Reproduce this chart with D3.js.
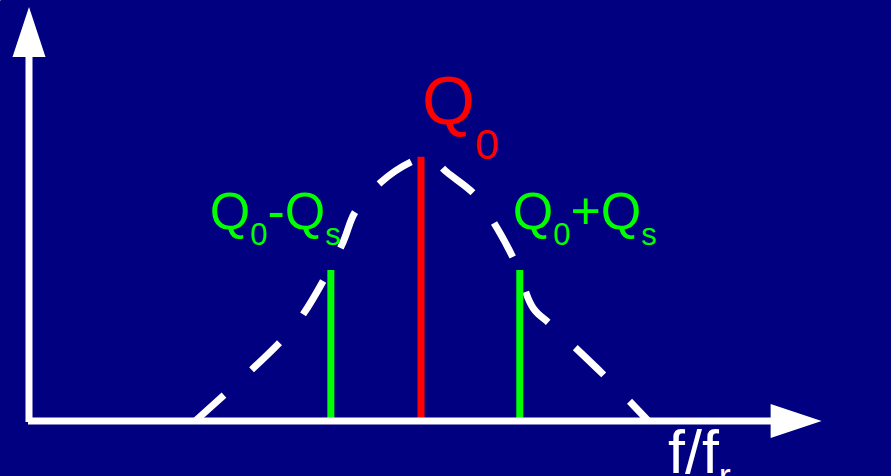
<!DOCTYPE html>
<html>
<head>
<meta charset="utf-8">
<script src="https://cdn.jsdelivr.net/npm/d3@7"></script>
<style>
  html, body { margin: 0; padding: 0; background: #000080; }
  svg { display: block; }
  text { font-family: "Liberation Sans", Arial, sans-serif; }
</style>
</head>
<body>
<div id="chart"></div>
<script>
// data (arbitrary units, f/fr on x, response on y)
const curveX = [21.2, 31.9, 34.9, 39.9, 41.6, 44.9, 49.0, 51.1, 53.3, 56.9, 59.7, 62.0, 64.3, 66.6, 73.7, 79.0]
const curveY = [0, 18.8, 25.6, 42.5, 50.5, 57.7, 62.8, 63.8, 60.1, 54.6, 46.6, 38.4, 27.3, 23.2, 10.4, 0]
const markerNames = ["Q0", "Q0-Qs", "Q0+Qs"]
const markerX = [50, 38.5, 62.6]
const markerTop = [63.8, 36.5, 36.5]
const axisLabels = ["f/f", "r", "G"]

const W = 891, H = 476
const red = "#ff0000", green = "#00ff00"

const svg = d3.select("#chart").append("svg")
    .attr("width", W).attr("height", H)

svg.append("rect").attr("width", W).attr("height", H).attr("fill", "#000080")

// scales
const x = d3.scaleLinear().domain([0, 100]).range([29, 813])
const y = d3.scaleLinear().domain([0, 100]).range([421, 7])

// dashed bell curve
const pts = curveX.map((d, i) => [d, curveY[i]])
svg.append("path")
    .datum(pts)
    .attr("d", d3.line()
        .x(d => x(d[0]))
        .y(d => y(d[1]))
        .curve(d3.curveCatmullRom.alpha(0.5)))
    .attr("fill", "none")
    .attr("stroke", "#fff")
    .attr("stroke-width", 7)
    .attr("stroke-dasharray", "39 37")

// vertical marker lines
svg.selectAll(".marker")
    .data(markerX)
    .enter().append("line")
    .attr("x1", d => x(d)).attr("x2", d => x(d))
    .attr("y1", y(0))
    .attr("y2", (d, i) => y(markerTop[i]))
    .attr("stroke", (d, i) => i == 0 ? red : green)
    .attr("stroke-width", 7)

// axes
const xEnd = 101.1, yEnd = 100
svg.append("line")
    .attr("x1", x(0) - 1).attr("x2", x(xEnd) - 48)
    .attr("y1", y(0)).attr("y2", y(0))
    .attr("stroke", "#fff").attr("stroke-width", 7)
svg.append("path")
    .attr("d", `M${x(xEnd)},${y(0)} L${x(xEnd) - 51},${y(0) - 17} L${x(xEnd) - 51},${y(0) + 17} Z`)
    .attr("fill", "#fff")
svg.append("line")
    .attr("x1", x(0)).attr("x2", x(0))
    .attr("y1", y(0) + 1).attr("y2", y(yEnd) + 48)
    .attr("stroke", "#fff").attr("stroke-width", 7)
svg.append("path")
    .attr("d", `M${x(0)},${y(yEnd)} L${x(0) - 16.5},${y(yEnd) + 50} L${x(0) + 16.5},${y(yEnd) + 50} Z`)
    .attr("fill", "#fff")

// labels
function qLabel(px, py, color, big, small, sub, parts) {
    const t = svg.append("text").attr("x", px).attr("y", py).attr("fill", color)
        .attr("font-size", big)
    parts.forEach(function (p, i) {
        t.append("tspan")
            .attr("font-size", i % 2 ? small : big)
            .attr("dy", i == 0 ? 0 : (i % 2 ? sub : -sub))
            .text(p)
    })
}
qLabel(x(markerX[0]) + 1, 124, red, 68, 43, 35, ["Q", "0"])
qLabel(x(markerX[1]) - 121, 229, green, 52, 31, 16, ["Q", "0", "-Q", "s"])
qLabel(x(markerX[2]) - 7, 229, green, 52, 31, 16, ["Q", "0", "+Q", "s"])

// x axis label f/fr
const fl = svg.append("text").attr("x", 668).attr("y", 473).attr("fill", "#fff")
    .attr("font-size", 61)
fl.append("tspan").text(axisLabels[0])
fl.append("tspan").attr("font-size", 36).attr("dy", 16).text(axisLabels[1])

// y axis label (cut off at the top)
svg.append("text").attr("x", -30).attr("y", 3).attr("fill", "#fff")
    .attr("font-size", 50).text(axisLabels[2])
</script>
</body>
</html>
